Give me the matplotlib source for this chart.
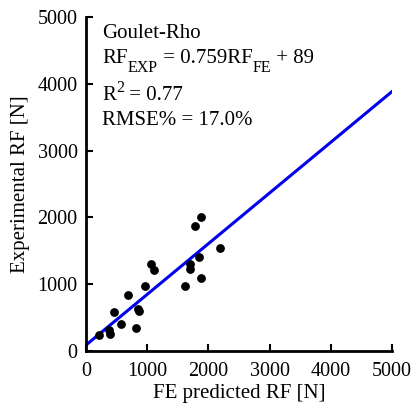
import numpy as np
import matplotlib.pyplot as plt
from matplotlib.transforms import IdentityTransform

plt.rcParams['font.family'] = ['Liberation Serif', 'DejaVu Serif']

fe_pred = [217, 381, 392, 452, 577, 681, 817, 855, 866, 959,
           1057, 1106, 1622, 1694, 1704, 1776, 1851, 1879, 1884, 2190]
exp_rf = [235, 314, 254, 588, 404, 838, 352, 629, 603, 973,
          1297, 1216, 979, 1297, 1231, 1876, 1407, 1088, 2006, 1542]
slope = 0.759
intercept = 89

fig = plt.figure(figsize=(4.17, 4.15), dpi=100)
ax = fig.add_axes([0.206, 0.154, 0.734, 0.805])

ax.scatter(fe_pred, exp_rf, s=28, color='black', zorder=3)
xl = np.array([0, 5000])
ax.plot(xl, slope * xl + intercept, color='#0000ee', lw=2.2)

ax.set_xlim(0, 5000)
ax.set_ylim(0, 5000)
ax.set_xticks([0, 1000, 2000, 3000, 4000, 5000])
ax.set_yticks([0, 1000, 2000, 3000, 4000, 5000])
ax.tick_params(direction='in', length=5, width=1.5, labelsize=14.5)
ax.tick_params(axis='x', pad=8)
ax.tick_params(axis='y', pad=6)
for s in ['top', 'right']:
    ax.spines[s].set_visible(False)
for s in ['left', 'bottom']:
    ax.spines[s].set_linewidth(2)

ax.set_xlabel('FE predicted RF [N]', fontsize=15, labelpad=2)
ax.set_ylabel('Experimental RF [N]', fontsize=15, labelpad=5)

# annotation, built piece by piece so sub/superscripts sit right
fig.canvas.draw()
rend = fig.canvas.get_renderer()


def put(pieces, x0, y0):
    x = x0
    for s, size, dy in pieces:
        t = fig.text(x, y0 + dy, s, fontsize=size, va='baseline',
                     ha='left', transform=IdentityTransform())
        x = t.get_window_extent(rend).x1


put([('Goulet-Rho', 15, 0)], 102, 377)
put([('RF', 15, 0), ('EXP', 11.5, -9), (' = 0.759RF', 15, 0),
     ('FE', 11.5, -9), (' + 89', 15, 0)], 102, 352)
put([('R', 15, 0), ('2', 11.5, 8), (' = 0.77', 15, 0)], 102, 315)
put([('RMSE% = 17.0%', 15, 0)], 102, 290)

fig.savefig('out.png', dpi=100)
